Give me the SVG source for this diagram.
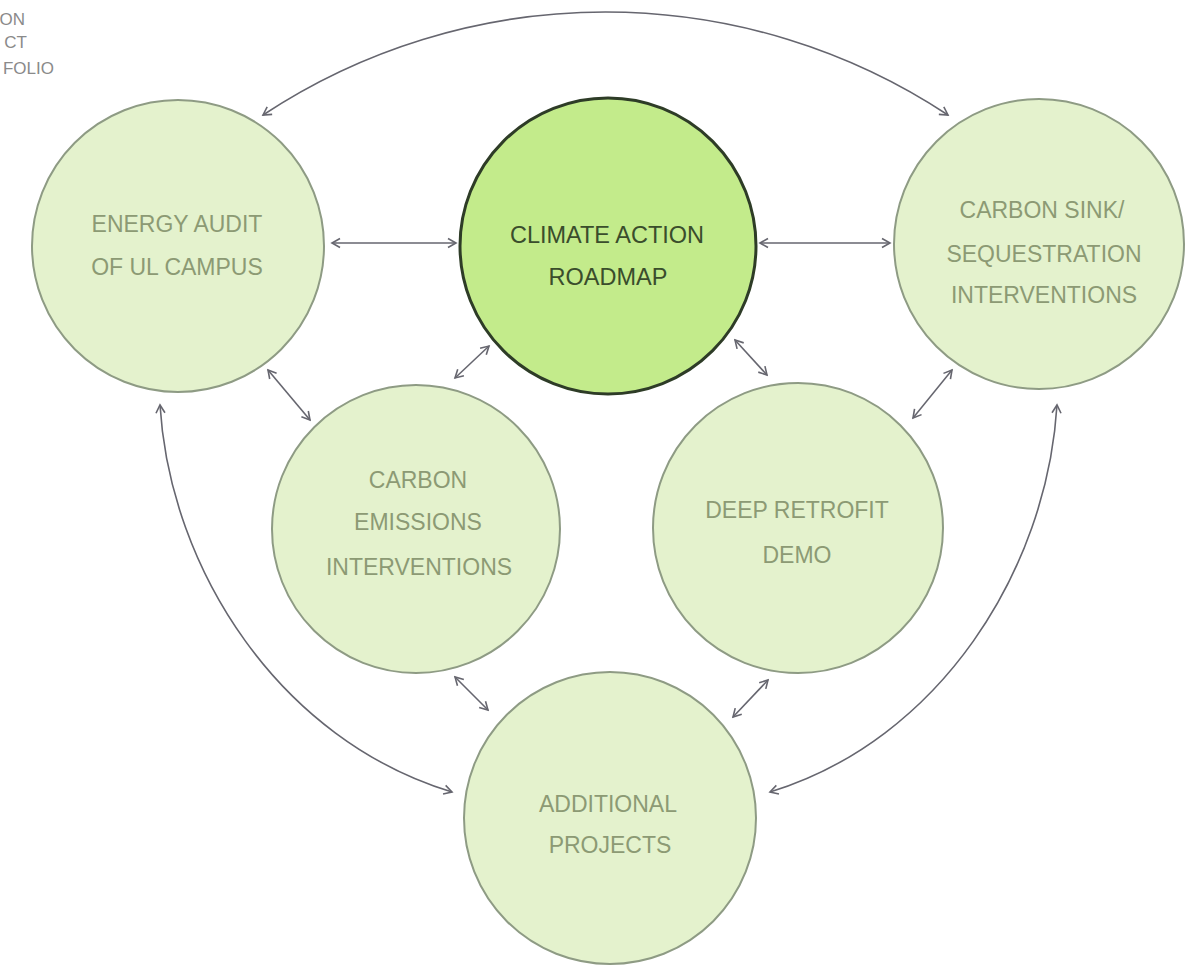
<svg xmlns="http://www.w3.org/2000/svg" width="1195" height="967" viewBox="0 0 1195 967">
<defs>
<style>
.node{fill:#e4f2cd;stroke:#8e9b84;stroke-width:2}
.main{fill:#c3eb8b;stroke:#2e3c27;stroke-width:3}
.lbl{font-family:"Liberation Sans",Arial,sans-serif;font-size:23px;fill:#8c9a74;text-anchor:middle}
.mlbl{font-family:"Liberation Sans",Arial,sans-serif;font-size:23.5px;fill:#3a4d2c;text-anchor:middle}
.con{fill:none;stroke:#66666f;stroke-width:1.6;marker-start:url(#ah);marker-end:url(#ah)}
.corner{font-family:"Liberation Sans",Arial,sans-serif;font-size:17px;fill:#8a8a8a;text-anchor:end}
</style>
<marker id="ah" viewBox="0 0 12 12" markerWidth="12" markerHeight="12" refX="10" refY="6" orient="auto-start-reverse" markerUnits="userSpaceOnUse">
<path d="M2,1.5 L10,6 L2,10.5" fill="none" stroke="#66666f" stroke-width="1.6"/>
</marker>
</defs>
<rect width="1195" height="967" fill="#ffffff"/>
<g id="corner-title">
<text class="corner" x="25" y="25">ON</text>
<text class="corner" x="27" y="48">CT</text>
<text class="corner" x="54" y="74">FOLIO</text>
</g>
<g id="connectors">
<path class="con" d="M263,115 A621,621 0 0 1 948,115"/>
<path class="con" d="M332,243 L456,243"/>
<path class="con" d="M760,243 L890,243"/>
<path class="con" d="M489,346 L455,378"/>
<path class="con" d="M735,340 L767,375"/>
<path class="con" d="M952,370 L913,418"/>
<path class="con" d="M268,370 L310,420"/>
<path class="con" d="M455,677 L488,710"/>
<path class="con" d="M768,680 L733,717"/>
<path class="con" d="M160,405 C170,570 280,740 452,792"/>
<path class="con" d="M1057,405 C1047,570 940,740 770,792"/>
</g>
<g id="energy-audit">
<circle class="node" cx="178" cy="246" r="146"/>
<text class="lbl" x="177" y="232">ENERGY AUDIT</text>
<text class="lbl" x="177" y="275">OF UL CAMPUS</text>
</g>
<g id="climate-action-roadmap">
<circle class="main" cx="608" cy="246" r="148"/>
<text class="mlbl" x="607" y="243">CLIMATE ACTION</text>
<text class="mlbl" x="608" y="285">ROADMAP</text>
</g>
<g id="carbon-sink">
<circle class="node" cx="1039" cy="244" r="145"/>
<text class="lbl" x="1042" y="218">CARBON SINK/</text>
<text class="lbl" x="1044" y="262">SEQUESTRATION</text>
<text class="lbl" x="1044" y="303">INTERVENTIONS</text>
</g>
<g id="carbon-emissions">
<circle class="node" cx="416" cy="529" r="144"/>
<text class="lbl" x="418" y="488">CARBON</text>
<text class="lbl" x="418" y="530">EMISSIONS</text>
<text class="lbl" x="419" y="575">INTERVENTIONS</text>
</g>
<g id="deep-retrofit">
<circle class="node" cx="798" cy="528" r="145"/>
<text class="lbl" x="797" y="518">DEEP RETROFIT</text>
<text class="lbl" x="797" y="563">DEMO</text>
</g>
<g id="additional-projects">
<circle class="node" cx="610" cy="818" r="146"/>
<text class="lbl" x="608" y="812">ADDITIONAL</text>
<text class="lbl" x="610" y="853">PROJECTS</text>
</g>
</svg>
